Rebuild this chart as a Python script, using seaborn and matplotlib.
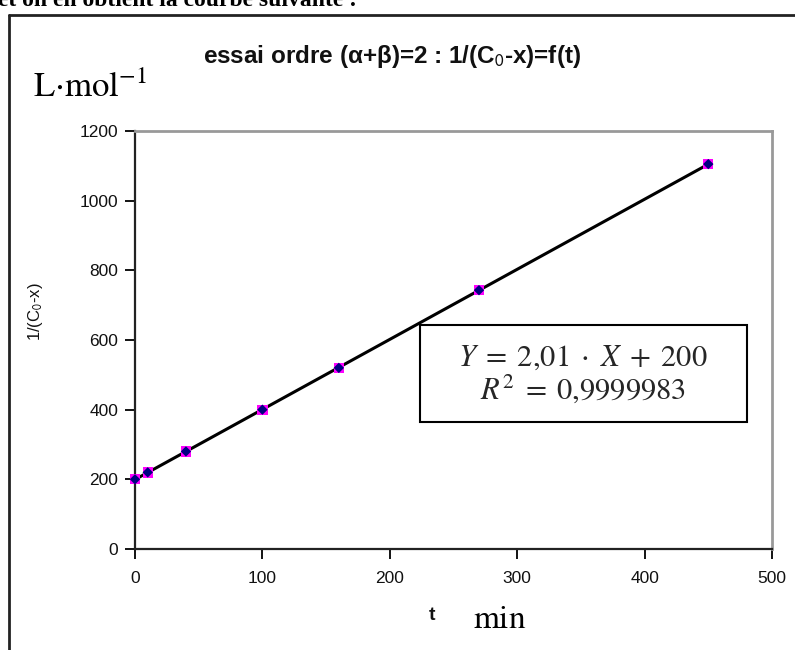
import matplotlib
matplotlib.use("Agg")
import matplotlib.pyplot as plt
import numpy as np
import pandas as pd
import seaborn as sns
from matplotlib.lines import Line2D
from matplotlib.patches import Rectangle

# data
t_min = [0, 10, 40, 100, 160, 270, 450]
inv_c = [200, 220, 280, 400, 520, 743, 1105]
x_ticks = [0, 100, 200, 300, 400, 500]
y_ticks = [0, 200, 400, 600, 800, 1000, 1200]

df = pd.DataFrame({"t": t_min, "inv": inv_c})
slope, intercept = np.polyfit(df["t"], df["inv"], 1)
df["fit"] = slope * df["t"] + intercept

sns.set_theme(style="white")
plt.rcParams["font.family"] = ["Liberation Sans", "DejaVu Sans"]
plt.rcParams["mathtext.fontset"] = "stix"

fig = plt.figure(figsize=(7.95, 6.5), dpi=100)
ax = fig.add_axes([135 / 795, 1 - 549 / 650, (772 - 135) / 795, (549 - 131) / 650])

sns.lineplot(data=df, x="t", y="fit", color="black", lw=2.2, ax=ax, zorder=2)
sns.scatterplot(data=df, x="t", y="inv", marker="s", s=55, color="#ff00ff",
                edgecolor="none", ax=ax, zorder=3, clip_on=False)
sns.scatterplot(data=df, x="t", y="inv", marker="D", s=28, color="#000080",
                edgecolor="none", ax=ax, zorder=4, clip_on=False)

ax.set_xlim(0, 500)
ax.set_ylim(0, 1200)
ax.set_xticks(x_ticks)
ax.set_yticks(y_ticks)
ax.tick_params(axis="both", direction="out", length=7, width=1.3, color="black",
               labelsize=12.5, labelcolor="#111111", pad=5,
               bottom=True, left=True)
ax.tick_params(axis="x", pad=9)

for side in ["left", "bottom"]:
    ax.spines[side].set_color("#222222")
    ax.spines[side].set_linewidth(1.6)
for side in ["top", "right"]:
    ax.spines[side].set_color("#999999")
    ax.spines[side].set_linewidth(2)

ax.set_xlabel("")
ax.set_ylabel(r"1/(C$_\mathsf{0}$-x)", fontsize=12, color="#111111")
ax.yaxis.set_label_coords(-0.142, 0.567)

# title and unit labels
fig.text(392 / 795, 1 - 57 / 650, r"essai ordre (α+β)=2 : 1/(C$_\mathsf{0}$-x)=f(t)",
         ha="center", va="center", fontsize=17.5, fontweight="bold", color="#111111")
fig.text(33 / 795, 1 - 87 / 650, r"$\mathrm{L{\cdot}mol^{-1}}$", ha="left",
         va="center", fontsize=25, color="black")
fig.text(432 / 795, 1 - 615 / 650, "t", ha="center", va="center", fontsize=14,
         fontweight="bold", color="#111111")
fig.text(500 / 795, 1 - 620 / 650, r"$\mathrm{min}$", ha="center", va="center",
         fontsize=24, color="black")

# fit equation box
ax.add_patch(Rectangle((0.447, 0.304), 0.514, 0.232, transform=ax.transAxes,
                       facecolor="white", edgecolor="black", lw=1.5, zorder=5))
ax.text(0.703, 0.418, "$Y\\;=\\;2{,}01\\;\\cdot\\;X\\;+\\;200$\n$R^2\\;=\\;0{,}9999983$",
        transform=ax.transAxes, ha="center", va="center", fontsize=22,
        linespacing=1.05, zorder=6)

# outer frame and cut-off sentence above it
fig.add_artist(Line2D([9 / 795, 9 / 795], [0, 1 - 15 / 650], color="#222222", lw=2))
fig.add_artist(Line2D([9 / 795, 1], [1 - 15 / 650, 1 - 15 / 650], color="#222222", lw=2))
fig.text(-2 / 795, 1 - 6 / 650, "et on en obtient la courbe suivante :",
         ha="left", va="baseline", fontsize=17, fontweight="bold",
         family=["Liberation Serif", "DejaVu Serif"], color="black")

fig.savefig("out.png", dpi=100)
